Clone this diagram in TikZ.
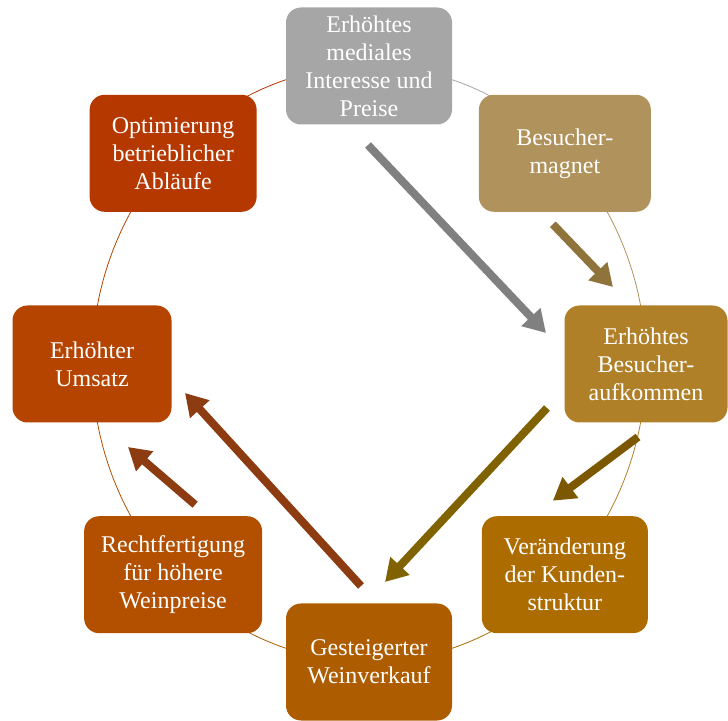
\documentclass[tikz,border=0pt]{standalone}
\usepackage{fontspec}
\setmainfont{Liberation Serif}
\usepackage{xcolor}
\usetikzlibrary{arrows.meta,positioning,calc}
\definecolor{boxgray}{RGB}{166,166,166}
\definecolor{boxtan}{RGB}{176,146,92}
\definecolor{boxgold}{RGB}{176,128,40}
\definecolor{boxochre}{RGB}{172,108,0}
\definecolor{boxamber}{RGB}{174,92,0}
\definecolor{boxrust}{RGB}{178,80,0}
\definecolor{boxbrick}{RGB}{180,68,0}
\definecolor{boxred}{RGB}{180,56,0}
\definecolor{arrgray}{RGB}{128,128,128}
\definecolor{arrtan}{RGB}{142,115,58}
\definecolor{arrgold}{RGB}{124,88,0}
\definecolor{arrolive}{RGB}{128,98,0}
\definecolor{arrbrown}{RGB}{140,60,16}
\newcommand{\ringarc}[2]{\draw[#2,line width=0.8pt] ($(cen)+(#1:277pt and 298pt)$) arc[start angle=#1,end angle=#1-45,x radius=277pt,y radius=298pt];}

\begin{document}
\begin{tikzpicture}[x=1pt,y=1pt,
  cyclebox/.style={rounded corners=15pt,minimum height=117pt,inner sep=2pt,align=center,text=white,font=\fontsize{24}{28}\selectfont},
  flowarrow/.style={line width=8pt,-{Triangle[length=22pt,width=25pt]}}]
\useasboundingbox (0,0) rectangle (728,720);
\coordinate (cen) at (369,356);
\ringarc{90}{boxgray} \ringarc{45}{boxtan} \ringarc{0}{boxgold} \ringarc{-45}{boxochre}
\ringarc{-90}{boxamber} \ringarc{-135}{boxrust} \ringarc{180}{boxbrick} \ringarc{135}{boxred}
\foreach \ang/\nm/\bw/\col/\txt in {
  90/medien/166/boxgray/{Erhöhtes\\mediales\\Interesse und\\Preise},
  45/magnet/172/boxtan/{Besucher-\\magnet},
  0/besuch/163/boxgold/{Erhöhtes\\Besucher-\\aufkommen},
  -45/kunden/166/boxochre/{Veränderung\\der Kunden-\\struktur},
  -90/verkauf/166/boxamber/{Gesteigerter\\Weinverkauf},
  -135/preise/178/boxrust/{Rechtfertigung\\für höhere\\Weinpreise},
  180/umsatz/159/boxbrick/{Erhöhter\\Umsatz},
  135/ablauf/167/boxred/{Optimierung\\betrieblicher\\Abläufe}}
  \node[cyclebox,fill=\col,minimum width=\bw pt] (\nm) at ($(cen)+(\ang:277pt and 298pt)$) {\txt};
\draw[flowarrow,arrgray] ([shift={(-1,-79)}]medien.center) -- ([shift={(-100,31)}]besuch.center);
\draw[flowarrow,arrtan] ([shift={(-12,-71)}]magnet.center) -- ([shift={(-33,77)}]besuch.center);
\draw[flowarrow,arrgold] ([shift={(-8,-73)}]besuch.center) -- ([shift={(-12,74)}]kunden.center);
\draw[flowarrow,arrolive] ([shift={(-99,-44)}]besuch.center) -- ([shift={(16,80)}]verkauf.center);
\draw[flowarrow,arrbrown] ([shift={(-8,76)}]verkauf.center) -- ([shift={(93,-29)}]umsatz.center);
\draw[flowarrow,arrbrown] ([shift={(22,70)}]preise.center) -- ([shift={(36,-83)}]umsatz.center);
\end{tikzpicture}
\end{document}
